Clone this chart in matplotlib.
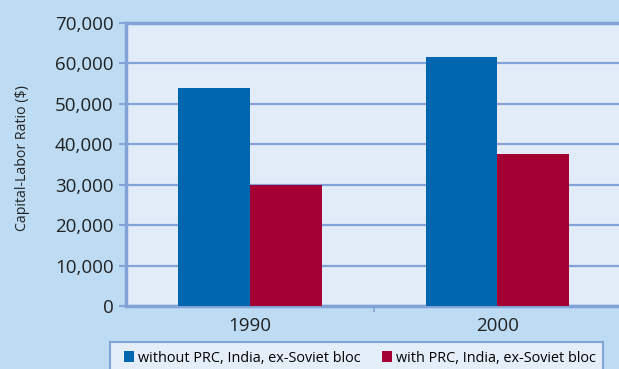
import matplotlib.pyplot as plt
import numpy as np
from matplotlib.patches import Rectangle
from matplotlib.ticker import FuncFormatter

years = ["1990", "2000"]
without_bloc = [53800, 61500]
with_bloc = [29900, 37600]
series_labels = ["without PRC, India, ex-Soviet bloc", "with PRC, India, ex-Soviet bloc"]

BG = "#BDDCF3"
PANEL = "#E2ECF8"
GRID = "#82A3D8"
BLUE = "#0066B0"
RED = "#A50034"
INK = "#222222"
W, H = 619, 369

plt.rcParams["font.family"] = ["Open Sans", "DejaVu Sans"]

fig = plt.figure(figsize=(W / 100, H / 100), dpi=100, facecolor=BG)
ax = fig.add_axes([126 / W, 1 - 306 / H, 1.0, (306 - 23) / H])
ax.set_facecolor(PANEL)

x = np.arange(len(years))
w = 0.29
ax.bar(x - w / 2, without_bloc, w, color=BLUE, label=series_labels[0], zorder=3)
ax.bar(x + w / 2, with_bloc, w, color=RED, label=series_labels[1], zorder=3)

ax.set_xlim(-0.5, 2.0)
ax.set_ylim(0, 70000)
ax.set_yticks(range(0, 70001, 10000))
ax.yaxis.set_major_formatter(FuncFormatter(lambda v, _: f"{int(v):,}"))
ax.grid(axis="y", color=GRID, linewidth=1.6, zorder=1)

ax.set_xticks(x)
ax.set_xticklabels(years)
ax.set_xticks([0.5, 1.5], minor=True)
ax.tick_params(axis="x", which="major", length=0, labelsize=13.5, pad=8, colors=INK)
ax.tick_params(axis="x", which="minor", length=4, color=GRID, width=1.2)
ax.tick_params(axis="y", length=5, color=GRID, width=1.5, labelsize=13.5, pad=4, colors=INK)

ax.spines["right"].set_visible(False)
for side in ["left", "bottom", "top"]:
    ax.spines[side].set_color(GRID)
    ax.spines[side].set_linewidth(2.5)

fig.text(22 / W, 1 - 158 / H, "Capital-Labor Ratio ($)", rotation=90,
         ha="center", va="center", fontsize=10.2, color=INK)

# legend box drawn separately: the original's box is cut off by the bottom edge
fig.patches.append(Rectangle((110 / W, 1 - 372 / H), (603 - 110) / W, 30 / H,
                             transform=fig.transFigure, facecolor="#E4EEF9",
                             edgecolor=GRID, linewidth=1.5, zorder=0))
fig.legend(loc="center left", bbox_to_anchor=(124 / W, 1 - 358 / H),
           ncol=2, fontsize=10.4, frameon=False,
           handlelength=0.7, handleheight=0.7, handletextpad=0.3,
           columnspacing=1.45, borderpad=0, borderaxespad=0)

fig.savefig("out.png", dpi=100, facecolor=BG)
